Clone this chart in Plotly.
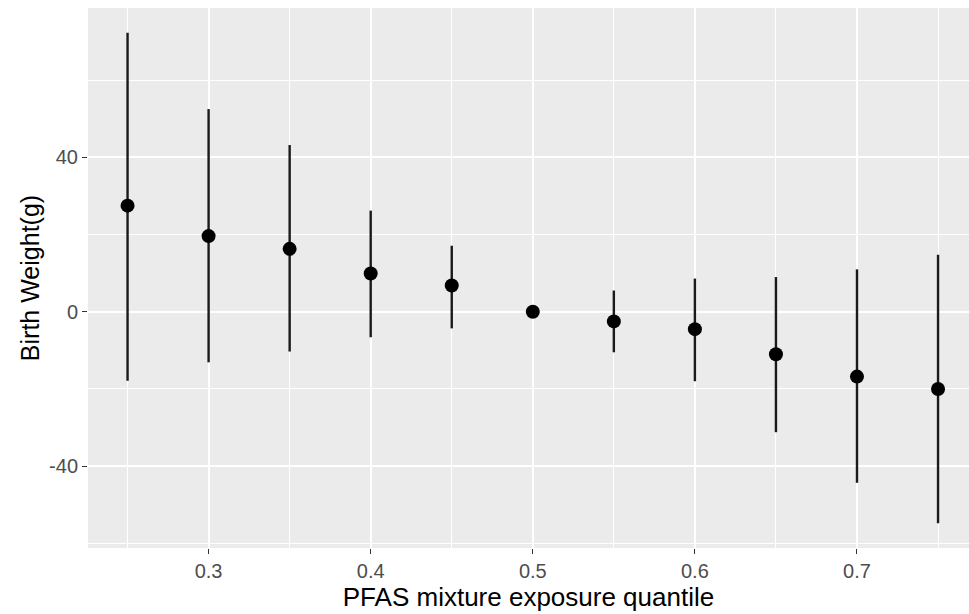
import plotly.graph_objects as go

quantile = [0.25, 0.30, 0.35, 0.40, 0.45, 0.50, 0.55, 0.60, 0.65, 0.70, 0.75]
estimate = [27.5, 19.6, 16.3, 9.9, 6.8, 0.0, -2.5, -4.5, -11.0, -16.8, -20.0]
upper = [72.3, 52.5, 43.2, 26.2, 17.1, 0.0, 5.5, 8.6, 9.0, 11.0, 14.8]
lower = [-17.9, -13.1, -10.3, -6.6, -4.3, 0.0, -10.5, -18.0, -31.2, -44.3, -54.8]

x_ticks = [0.3, 0.4, 0.5, 0.6, 0.7]
x_ticktext = ["0.3", "0.4", "0.5", "0.6", "0.7"]
y_ticks = [-40, 0, 40]
y_ticktext = ["-40", "0", "40"]

err_plus = [u - e for u, e in zip(upper, estimate)]
err_minus = [e - l for e, l in zip(estimate, lower)]

fig = go.Figure()
fig.add_trace(go.Scatter(
    x=quantile, y=estimate, mode="markers",
    marker=dict(color="black", size=14),
    error_y=dict(type="data", symmetric=False, array=err_plus, arrayminus=err_minus,
                 width=0, thickness=2.4, color="#1a1a1a"),
    showlegend=False,
))

font_family = "Liberation Sans, Arial, sans-serif"
fig.update_layout(
    width=969, height=614,
    margin=dict(l=88, r=0, t=8, b=66),
    paper_bgcolor="white",
    plot_bgcolor="#EBEBEB",
    font=dict(family=font_family),
    xaxis=dict(
        range=[0.2256, 0.7691],
        tickvals=x_ticks, ticktext=x_ticktext,
        showgrid=True, gridcolor="white", gridwidth=1.5,
        minor=dict(tick0=0.25, dtick=0.1, showgrid=True, gridcolor="white", gridwidth=0.8),
        ticks="outside", ticklen=5, tickcolor="#333333", tickwidth=1.2,
        tickfont=dict(size=20, color="#4D4D4D"),
        zeroline=False, showline=False,
        title=dict(text="PFAS mixture exposure quantile", font=dict(size=26, color="black"), standoff=3),
    ),
    yaxis=dict(
        range=[-61.2, 78.7],
        tickvals=y_ticks, ticktext=y_ticktext,
        showgrid=True, gridcolor="white", gridwidth=1.5,
        minor=dict(tick0=-60, dtick=40, showgrid=True, gridcolor="white", gridwidth=0.8),
        ticks="outside", ticklen=5, tickcolor="#333333", tickwidth=1.2,
        tickfont=dict(size=20, color="#4D4D4D"),
        zeroline=False, showline=False,
        title=dict(text="Birth Weight(g)", font=dict(size=25, color="black"), standoff=2),
    ),
)

fig.write_html("out.html")
